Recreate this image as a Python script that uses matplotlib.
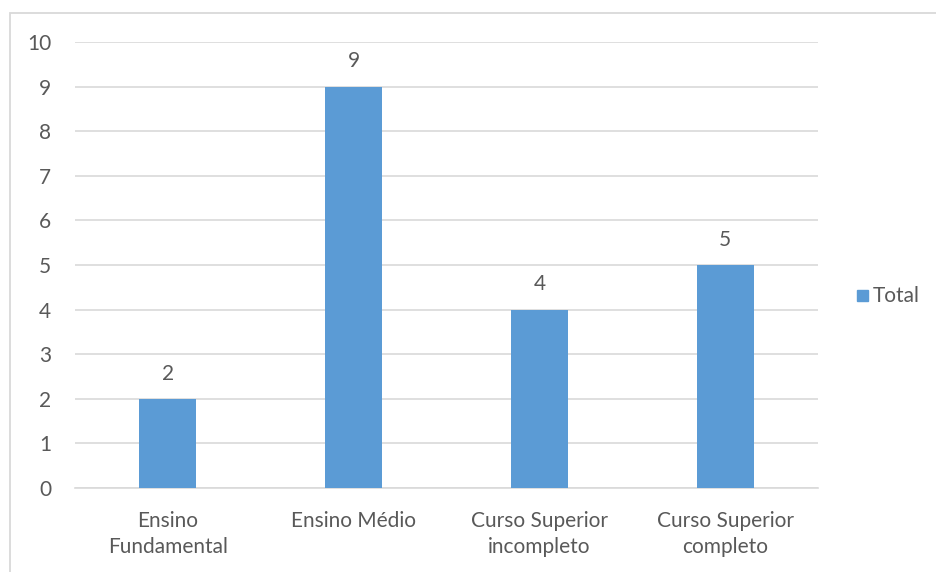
import matplotlib
matplotlib.use("Agg")
import matplotlib.pyplot as plt
from matplotlib.patches import Rectangle

categories = ["Ensino\nFundamental", "Ensino Médio", "Curso Superior\nincompleto", "Curso Superior\ncompleto"]
values = [2, 9, 4, 5]
series_name = "Total"
yticks = list(range(0, 11))

plt.rcParams['font.family'] = ['Lato', 'DejaVu Sans']

W, H = 937, 572
fig = plt.figure(figsize=(W / 100, H / 100), dpi=100)
ax = fig.add_axes([75 / W, 1 - 488 / H, (818 - 75) / W, (488 - 42) / H])

bar_color = "#5B9BD5"
txt_color = "#595959"
grid_color = "#D9D9D9"
fs = 15

x = list(range(len(categories)))
bars = ax.bar(x, values, width=0.307, color=bar_color, zorder=3, label=series_name)
ax.set_xlim(-0.5, len(categories) - 0.5)
ax.set_ylim(0, 10)
ax.set_yticks(yticks)
ax.set_yticklabels([str(t) for t in yticks])
ax.set_xticks(x)
ax.set_xticklabels(categories, linespacing=1.38)
ax.yaxis.grid(True, color=grid_color, linewidth=1.2, zorder=0)
ax.set_axisbelow(True)
for s in ["top", "right", "left"]:
    ax.spines[s].set_visible(False)
ax.spines["bottom"].set_color(grid_color)
ax.spines["bottom"].set_linewidth(1.2)
ax.tick_params(axis="both", length=0, labelcolor=txt_color, labelsize=fs)
ax.tick_params(axis="y", pad=17)
ax.tick_params(axis="x", pad=16.5)

for rect, v in zip(bars, values):
    ax.annotate(str(v), (rect.get_x() + rect.get_width() / 2, v), xytext=(0, 11),
                textcoords="offset points", ha="center", va="bottom",
                color=txt_color, fontsize=fs)

# legend
fig.patches.append(Rectangle((857 / W, 1 - 301 / H), 11 / W, 11 / H, transform=fig.transFigure,
                             color=bar_color, figure=fig))
fig.text(873 / W, 1 - 296 / H, series_name, ha="left", va="center", color=txt_color, fontsize=fs)

# chart border
fig.patches.append(Rectangle((10 / W, -0.05), 1.2, 1 - 13 / H + 0.05, transform=fig.transFigure,
                             fill=False, edgecolor=grid_color, linewidth=1.3, figure=fig))

fig.savefig("out.png", dpi=100)
